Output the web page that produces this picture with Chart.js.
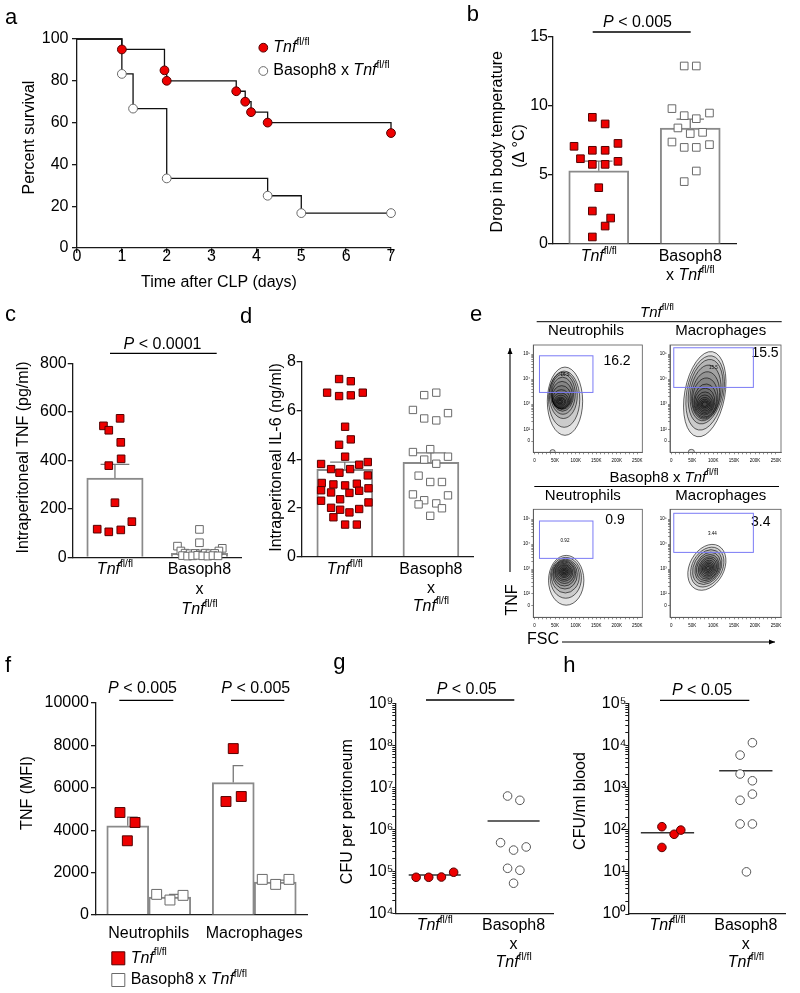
<!DOCTYPE html>
<html>
<head>
<meta charset="utf-8">
<title>CLP figure</title>
<script src="https://cdn.jsdelivr.net/npm/chart.js"></script>
<style>
body { margin: 0; background: #ffffff; }
#page { position: relative; width: 800px; height: 993px; background: #ffffff; }
#page canvas { position: absolute; left: 0; top: 0; }
</style>
</head>
<body>
<div id="page"></div>
<script>
// ----------------------------------------------------------------------
//	data
// ----------------------------------------------------------------------
// a : survival after CLP
const surv_days_tnf  = [0, 1, 1.95, 2, 3.55, 3.75, 3.88, 4.25, 7]
const surv_pct_tnf   = [100, 95, 85, 80, 75, 70, 65, 60, 55]
const surv_days_baso = [0, 1, 1.25, 2, 4.25, 5, 7]
const surv_pct_baso  = [100, 83.3, 66.7, 33.3, 25, 16.7, 16.7]

// b : drop in body temperature
const temp_tnf      = [9.18, 8.7, 7.08, 7.29, 6.79, 6.79, 6.18, 5.77, 5.77, 5.99, 4.08, 2.39, 1.88, 1.3, 0.51]
const temp_jit_tnf  = [-0.07, 0.07, -0.27, 0.21, -0.07, 0.07, -0.2, -0.07, 0.07, 0.21, 0, -0.07, 0.13, 0.07, -0.07]
const temp_baso     = [12.9, 12.9, 9.81, 9.3, 9.08, 9.49, 8.41, 8.0, 8.09, 7.39, 7.0, 7.0, 7.2, 5.29, 4.52]
const temp_jit_baso = [-0.066, 0.066, -0.2, -0.066, 0.066, 0.21, -0.135, 0, 0.135, -0.2, -0.066, 0.066, 0.21, 0.066, -0.066]
const temp_mean     = [5.3, 8.4]
const temp_top      = [6.0, 9.05]

// c : intraperitoneal TNF
const tnf_tnf      = [573, 542, 524, 474, 406, 378, 225, 147, 116, 105, 113]
const tnf_jit_tnf  = [0.061, -0.136, -0.073, 0.069, 0.073, -0.073, 0, 0.2, -0.21, -0.073, 0.069]
const tnf_baso     = [115, 60, 46, 37, 26, 26, 17, 15, 16, 14, 17, 15, 16, 7, 5, 6, 8, 6, 5, 7, 6]
const tnf_jit_baso = [0, 0, -0.26, 0.27, -0.22, 0.23, -0.17, -0.11, -0.05, 0.01, 0.07, 0.125, 0.18, -0.2, -0.14, -0.08, -0.02, 0.04, 0.1, 0.16, 0.22]
const tnf_mean     = [327, 16]
const tnf_top      = [383, 22]

// d : intraperitoneal IL-6
const il6_tnf = [7.30, 7.21, 6.74, 6.60, 6.63, 6.74, 5.34, 4.82, 4.60, 4.11, 3.81, 3.60, 3.45, 3.60, 3.78, 3.89,
	3.03, 2.97, 2.93, 3.00, 3.34, 2.73, 2.64, 2.62, 2.71, 2.81, 2.30, 2.36, 2.01, 1.93, 1.82, 1.96, 2.23, 1.62, 1.32, 1.32]
const il6_jit_tnf = [-0.066, 0.07, -0.205, -0.066, 0.07, 0.209, 0.004, 0.07, -0.066, 0.004, -0.275, -0.159, -0.062, 0.062, 0.167, 0.267,
	-0.267, -0.132, 0.004, 0.14, 0.267, -0.275, -0.159, 0.054, 0.167, 0.275, -0.275, -0.054, -0.159, -0.054, 0.054, 0.167, 0.275, -0.132, 0.004, 0.14]
const il6_baso = [6.64, 6.74, 6.03, 5.68, 5.60, 5.90, 4.30, 4.42, 3.99, 3.82, 4.11, 3.33, 3.07, 3.07, 2.56, 2.32, 2.19, 2.52, 2.15, 1.99, 1.68]
const il6_jit_baso = [-0.078, 0.062, -0.209, -0.078, 0.062, 0.198, -0.209, -0.008, -0.078, 0.062, 0.198, -0.143, -0.008, 0.128,
	-0.209, -0.078, 0.062, 0.198, -0.143, 0.128, -0.008]
const il6_mean = [3.59, 3.88]
const il6_top  = [3.89, 4.27]

// e : flow cytometry (FSC in K, TNF in decades), gates [x0, x1, y0, y1]
const flow_x_ticks  = [0, 50, 100, 150, 200, 250]
const flow_x_labels = ['0', '50K', '100K', '150K', '200K', '250K']
const flow_y_ticks  = [1.53, 2, 3, 4, 5]
const flow_y_labels = ['0', '10²', '10³', '10⁴', '10⁵']
const gate_neu_tnf  = [12, 142, 3.47, 4.93]
const gate_mac_tnf  = [6, 196, 3.67, 5.25]
const gate_neu_baso = [12, 142, 3.43, 4.93]
const gate_mac_baso = [6, 196, 3.67, 5.24]
// contour levels [centre x, centre y, radius x, radius y, tilt]
const cont_neu_tnf = [[74, 3.12, 43, 1.36, 0], [72, 3.2, 38, 1.12, 0], [70, 3.35, 34, 0.92, 0], [69, 3.4, 30, 0.8, 0],
	[68, 3.4, 27, 0.68, 0], [67, 3.35, 25, 0.56, 0], [66, 3.28, 23, 0.46, 0], [65, 3.2, 21, 0.38, 0], [64, 3.15, 19, 0.3, 0],
	[64, 3.12, 16, 0.24, 0], [63, 3.1, 13, 0.18, 0], [63, 3.1, 10, 0.13, 0], [62, 3.1, 7, 0.09, 0], [62, 3.1, 4, 0.05, 0],
	[44, 1.12, 6, 0.07, 0]]
const cont_mac_tnf = [[80, 3.4, 48, 1.72, 0.18], [81, 3.45, 44, 1.5, 0.18], [82, 3.5, 40, 1.3, 0.18], [82, 3.45, 36, 1.12, 0.15],
	[82, 3.35, 33, 0.95, 0.12], [81, 3.25, 30, 0.8, 0.1], [81, 3.15, 27, 0.66, 0.1], [80, 3.1, 24, 0.54, 0.08],
	[80, 3.05, 21, 0.44, 0.05], [80, 3.02, 18, 0.35, 0], [80, 3.0, 15, 0.27, 0], [80, 3.0, 12, 0.2, 0],
	[80, 3.0, 9, 0.14, 0], [80, 3.0, 6, 0.09, 0], [48, 1.12, 7, 0.08, 0]]
const cont_neu_baso = [[77, 2.55, 43, 1.0, 0], [76, 2.65, 38, 0.82, 0], [75, 2.72, 34, 0.68, 0], [74, 2.78, 30, 0.58, 0],
	[73, 2.82, 27, 0.5, 0], [73, 2.85, 24, 0.43, 0], [72, 2.87, 21, 0.36, 0], [72, 2.88, 18, 0.3, 0], [72, 2.9, 15, 0.24, 0],
	[72, 2.9, 12, 0.19, 0], [72, 2.9, 9, 0.14, 0], [72, 2.9, 6, 0.09, 0], [72, 2.9, 3, 0.05, 0]]
const cont_mac_baso = [[85, 3.07, 41, 0.98, 0.5], [86, 3.08, 36, 0.85, 0.5], [86, 3.08, 32, 0.74, 0.5], [87, 3.07, 28, 0.64, 0.5],
	[87, 3.06, 25, 0.55, 0.5], [88, 3.05, 22, 0.47, 0.5], [88, 3.05, 19, 0.4, 0.5], [88, 3.04, 16, 0.33, 0.5],
	[88, 3.04, 13, 0.26, 0.5], [88, 3.04, 10, 0.2, 0.5], [88, 3.04, 7, 0.14, 0.5], [88, 3.04, 4, 0.08, 0.5]]

// f : TNF (MFI)
const cell_types     = ['Neutrophils', 'Macrophages']
const mfi_tnf        = [4835, 4364, 3501, 7849, 5353, 5589]
const mfi_cell_tnf   = [0, 0, 0, 1, 1, 1]
const mfi_jit_tnf    = [-0.273, -0.13, -0.203, -0.199, -0.268, -0.123]
const mfi_baso       = [973, 706, 926, 1680, 1444, 1680]
const mfi_cell_baso  = [0, 0, 0, 1, 1, 1]
const mfi_jit_baso   = [0.075, 0.201, 0.325, 0.076, 0.203, 0.329]
const mfi_mean_tnf   = [4207, 6248]
const mfi_top_tnf    = [4615, 7049]
const mfi_mean_baso  = [848, 1554]
const mfi_top_baso   = [973, 1648]

// g : CFU per peritoneum
const cfu_per_tnf      = [7.2e4, 7.2e4, 7.3e4, 9.5e4]
const cfu_per_jit_tnf  = [-0.236, -0.076, 0.085, 0.24]
const cfu_per_baso     = [6.2e6, 4.9e6, 4.8e5, 3.2e5, 3.8e5, 1.18e5, 1.06e5, 5.2e4]
const cfu_per_jit_baso = [-0.076, 0.08, -0.165, 0, 0.16, -0.076, 0.08, 0]
const cfu_per_line     = [8.2e4, 1.58e6]

// h : CFU/ml blood
const cfu_bl_tnf      = [118, 78, 98, 38]
const cfu_bl_jit_tnf  = [-0.071, 0.085, 0.17, -0.071]
const cfu_bl_baso     = [1.16e4, 5.9e3, 2.1e3, 1.45e3, 700, 500, 137, 137, 10]
const cfu_bl_jit_baso = [0.084, -0.073, -0.073, 0.084, 0.084, -0.073, -0.073, 0.084, 0.008]
const cfu_bl_line     = [85, 2.5e3]

// ----------------------------------------------------------------------
//	labels and styles
// ----------------------------------------------------------------------
const FONT = "'Liberation Sans', Arial, sans-serif"
const RED = '#ee0000'
const RED_EDGE = '#550000'
const OPEN_EDGE = '#6a6a6a'
const BAR_EDGE = '#8a8a8a'
const AXIS = '#1a1a1a'
const SUP = ['⁰', '¹', '²', '³', '⁴', '⁵', '⁶', '⁷', '⁸', '⁹']

const TNF = [['Tnf', 'i'], ['fl/fl', 's']]
const BASO_X_TNF = [['Basoph8 x ', ''], ['Tnf', 'i'], ['fl/fl', 's']]
const GROUPS_2LINE = [[TNF], [[['Basoph8', '']], [['x ', ''], ['Tnf', 'i'], ['fl/fl', 's']]]]
const GROUPS_3LINE = [[TNF], [[['Basoph8', '']], [['x', '']], TNF]]
const P_005 = [['P', 'i'], [' < 0.005', '']]
const P_0001 = [['P', 'i'], [' < 0.0001', '']]
const P_05 = [['P', 'i'], [' < 0.05', '']]
const UP = -Math.PI / 2

// ----------------------------------------------------------------------
function fontOf(style, size)
{
	const italic = style.indexOf('i') >= 0 ? 'italic ' : ''
	const px = style.indexOf('s') >= 0 ? size * 0.64 : size
	return italic + px + 'px ' + FONT
}

function richText(ctx, parts, x, y, size, align, rot)
{
	if (typeof parts === 'string') parts = [[parts, '']]
	ctx.save()
	ctx.translate(x, y)
	if (rot) ctx.rotate(rot)
	ctx.textBaseline = 'middle'
	ctx.textAlign = 'left'
	ctx.fillStyle = '#000'
	let total = 0
	const widths = []
	for (const p of parts)
		{
		ctx.font = fontOf(p[1], size)
		const w = ctx.measureText(p[0]).width
		widths.push(w)
		total += w
		}
	let cx = (align === 'left') ? 0 : -total / 2
	parts.forEach(function (p, i)
		{
		ctx.font = fontOf(p[1], size)
		const dy = p[1].indexOf('s') >= 0 ? -0.36 * size : 0
		ctx.fillText(p[0], cx, dy)
		cx += widths[i]
		})
	ctx.restore()
}

// ----------------------------------------------------------------------
function drawExtra(chart, info)
{
	const ctx = chart.ctx
	const a = chart.chartArea
	ctx.save()

	if (info.contours)
		{
		const xs = chart.scales.x
		const ys = chart.scales.y
		const kx = Math.abs(xs.getPixelForValue(1) - xs.getPixelForValue(0))
		const ky = Math.abs(ys.getPixelForValue(1) - ys.getPixelForValue(0))
		ctx.save()
		ctx.beginPath()
		ctx.rect(a.left, a.top, a.right - a.left, a.bottom - a.top)
		ctx.clip()
		ctx.strokeStyle = '#000'
		ctx.fillStyle = 'rgba(40,40,40,0.13)'
		ctx.lineWidth = 0.6
		for (const c of info.contours)
			{
			ctx.beginPath()
			ctx.ellipse(xs.getPixelForValue(c[0]), ys.getPixelForValue(c[1]), c[2] * kx, c[3] * ky, c[4], 0, 2 * Math.PI)
			ctx.fill()
			ctx.stroke()
			}
		ctx.restore()
		}

	if (info.gate)
		{
		const g = info.gate
		const xs = chart.scales.x
		const ys = chart.scales.y
		const x0 = xs.getPixelForValue(g[0])
		const x1 = xs.getPixelForValue(g[1])
		const y0 = ys.getPixelForValue(g[3])
		const y1 = ys.getPixelForValue(g[2])
		ctx.strokeStyle = '#7a7af5'
		ctx.lineWidth = 1
		ctx.strokeRect(x0, y0, x1 - x0, y1 - y0)
		}

	if (info.frame)
		{
		ctx.strokeStyle = '#555'
		ctx.lineWidth = 0.8
		ctx.strokeRect(a.left, a.top, a.right - a.left, a.bottom - a.top)
		}

	if (info.groups)
		{
		const xs = chart.scales.xj
		info.groups.forEach(function (lines, i)
			{
			lines.forEach(function (parts, k)
				{
				richText(ctx, parts, xs.getPixelForValue(i), info.group_y[k], 16, 'center')
				})
			})
		}

	ctx.strokeStyle = '#000'
	for (const l of (info.lines || []))
		{
		ctx.lineWidth = l[4] || 1.3
		ctx.beginPath()
		ctx.moveTo(l[0], l[1])
		ctx.lineTo(l[2], l[3])
		ctx.stroke()
		}

	for (const r of (info.arrows || []))
		{
		const ang = Math.atan2(r[3] - r[1], r[2] - r[0])
		ctx.lineWidth = 1.1
		ctx.beginPath()
		ctx.moveTo(r[0], r[1])
		ctx.lineTo(r[2], r[3])
		ctx.stroke()
		ctx.fillStyle = '#000'
		ctx.beginPath()
		ctx.moveTo(r[2], r[3])
		ctx.lineTo(r[2] - 6 * Math.cos(ang) + 2.5 * Math.sin(ang), r[3] - 6 * Math.sin(ang) - 2.5 * Math.cos(ang))
		ctx.lineTo(r[2] - 6 * Math.cos(ang) - 2.5 * Math.sin(ang), r[3] - 6 * Math.sin(ang) + 2.5 * Math.cos(ang))
		ctx.closePath()
		ctx.fill()
		}

	for (const m of (info.marks || []))
		{
		ctx.fillStyle = m.fill
		ctx.strokeStyle = m.edge
		ctx.lineWidth = 1
		ctx.beginPath()
		if (m.shape === 'circle')
			ctx.arc(m.x, m.y, m.r, 0, 2 * Math.PI)
		else
			ctx.rect(m.x - m.r, m.y - m.r, 2 * m.r, 2 * m.r)
		ctx.fill()
		ctx.stroke()
		}

	for (const t of (info.texts || []))
		{
		richText(ctx, t.p, t.x, t.y, t.size || 16, t.align || 'center', t.rot || 0)
		}

	ctx.restore()
}

// ----------------------------------------------------------------------
function makeChart(type, labels, datasets, area, yw, xh, scales, info)
{
	const canvas = document.createElement('canvas')
	canvas.width = 800
	canvas.height = 993
	document.getElementById('page').appendChild(canvas)
	scales.y.afterFit = function (s) { s.width = yw }
	scales.x.afterFit = function (s) { s.height = xh }
	const data = labels ? {labels: labels, datasets: datasets} : {datasets: datasets}
	return new Chart(canvas, {
		type: type,
		data: data,
		options: {
			responsive: false, animation: false, devicePixelRatio: 1, events: [],
			layout: {padding: {left: area[0] - yw, top: area[1], right: 800 - area[2], bottom: 993 - area[3] - xh}},
			plugins: {legend: {display: false}, tooltip: {enabled: false}},
			scales: scales
		},
		plugins: [{id: 'extra', afterDraw: function (c) { drawExtra(c, info) }}]
	})
}

function numAxis(min, max, step, pad)
{
	return {
		type: 'linear', min: min, max: max,
		ticks: {stepSize: step, padding: pad, color: '#000', font: {family: FONT, size: 16, lineHeight: 1},
			callback: function (v) { return String(v) }},
		grid: {drawOnChartArea: false, drawTicks: true, tickLength: 5, color: AXIS, lineWidth: 1.3},
		border: {display: true, color: AXIS, width: 1.3}
	}
}

function logAxis(minExp, maxExp)
{
	return {
		type: 'logarithmic', min: Math.pow(10, minExp), max: Math.pow(10, maxExp),
		afterBuildTicks: function (s)
			{
			const ticks = []
			for (let e = minExp; e < maxExp; e++)
				for (let k = 1; k < 10; k++)
					ticks.push({value: k * Math.pow(10, e)})
			ticks.push({value: Math.pow(10, maxExp)})
			s.ticks = ticks
			},
		ticks: {
			autoSkip: false, padding: -1, color: '#000', font: {family: FONT, size: 16, lineHeight: 1},
			callback: function (v)
				{
				const e = Math.round(Math.log10(v))
				return Math.abs(Math.log10(v) - e) < 1e-9 ? '10' + SUP[e] : ''
				}
			},
		grid: {drawOnChartArea: false, drawTicks: true, tickLength: 3, color: AXIS, lineWidth: 1},
		border: {display: true, color: AXIS, width: 1.3}
	}
}

function catAxis()
{
	return {
		type: 'category', offset: true,
		ticks: {padding: 3, color: '#000', font: {family: FONT, size: 16, lineHeight: 1}},
		grid: {display: false},
		border: {display: true, color: AXIS, width: 1.3}
	}
}

function plainX()
{
	return {
		type: 'linear', min: -0.5, max: 1.5, offset: false,
		ticks: {display: false}, grid: {display: false},
		border: {display: true, color: AXIS, width: 1.3}
	}
}

function jitterAxis()
{
	return {type: 'linear', display: false, offset: false, min: -0.5, max: 1.5}
}

function pointsSet(cat, jitter, values, fill, edge, style, r)
{
	return {
		type: 'scatter', xAxisID: 'xj', yAxisID: 'y', order: 0, clip: false, grouped: false,
		data: values.map(function (v, i) { return {x: (Array.isArray(cat) ? cat[i] : cat) + jitter[i], y: v} }),
		pointStyle: style, pointRadius: r,
		pointBackgroundColor: fill, pointBorderColor: edge, pointBorderWidth: 1
	}
}

function pathSet(data, color, width)
{
	return {
		type: 'scatter', showLine: true, xAxisID: 'xj', yAxisID: 'y', order: 1, grouped: false, data: data,
		borderColor: color, borderWidth: width, pointRadius: 0, spanGaps: false, fill: false
	}
}

function errSet(centers, means, tops, capL, capR)
{
	const data = []
	centers.forEach(function (c, i)
		{
		data.push({x: c, y: means[i]}, {x: c, y: tops[i]})
		if (capL) data.push({x: c - capL, y: tops[i]})
		data.push({x: c + capR, y: tops[i]}, {x: c, y: null})
		})
	return pathSet(data, '#777', 1.3)
}

function meanSet(values, half)
{
	const data = []
	values.forEach(function (v, i)
		{
		data.push({x: i - half, y: v}, {x: i + half, y: v}, {x: i, y: null})
		})
	return pathSet(data, '#333', 1.5)
}

// bars sit on the jitter axis at their group centre, one bar per value
function barSet(centers, values, thickness)
{
	return {
		type: 'bar', xAxisID: 'xj', yAxisID: 'y', order: 2, grouped: false, barThickness: thickness,
		data: centers.map(function (c, i) { return {x: c, y: values[i]} }),
		backgroundColor: 'rgba(255,255,255,0)', borderColor: BAR_EDGE, borderWidth: 1.3
	}
}

function kmSet(days, pct, fill, edge)
{
	return {
		data: days.map(function (d, i) { return {x: d, y: pct[i]} }),
		showLine: true, stepped: 'before', clip: false,
		borderColor: '#111', borderWidth: 1.3,
		pointRadius: days.map(function (d, i) { return i ? 4.4 : 0 }),
		pointBackgroundColor: fill, pointBorderColor: edge, pointBorderWidth: 1
	}
}

// ----------------------------------------------------------------------
function panel_a()
{
	const area = [77, 39, 391, 248]
	const info = {
		texts: [
			{p: 'a', x: 5, y: 18.4, size: 22, align: 'left'},
			{p: 'Percent survival', x: 29.5, y: 137.5, rot: UP},
			{p: 'Time after CLP (days)', x: 219, y: 283},
			{p: TNF, x: 273.3, y: 47.7, align: 'left'},
			{p: BASO_X_TNF, x: 273.3, y: 71, align: 'left'}
		],
		marks: [
			{shape: 'circle', x: 263.3, y: 47.7, r: 4.4, fill: RED, edge: RED_EDGE},
			{shape: 'circle', x: 263.3, y: 71, r: 4.4, fill: '#fff', edge: OPEN_EDGE}
		]
	}
	const datasets = [
		kmSet(surv_days_tnf, surv_pct_tnf, RED, RED_EDGE),
		kmSet(surv_days_baso, surv_pct_baso, '#fff', OPEN_EDGE)
	]
	makeChart('scatter', null, datasets, area, 50, 30,
		{x: numAxis(0, 7, 1, -4), y: numAxis(0, 100, 20, 3.5)}, info)
}

// ----------------------------------------------------------------------
function panel_b()
{
	const area = [553, 37, 736, 244]
	const info = {
		groups: GROUPS_2LINE, group_y: [256.5, 275.5],
		lines: [[592.7, 32, 690.7, 32]],
		texts: [
			{p: 'b', x: 466.7, y: 15.1, size: 22, align: 'left'},
			{p: P_005, x: 637.5, y: 22.5},
			{p: 'Drop in body temperature', x: 497.7, y: 141.7, rot: UP},
			{p: '(Δ °C)', x: 520, y: 146, rot: UP}
		]
	}
	const datasets = [
		pointsSet(0, temp_jit_tnf, temp_tnf, RED, RED_EDGE, 'rect', 5.4),
		pointsSet(1, temp_jit_baso, temp_baso, '#fff', OPEN_EDGE, 'rect', 5.4),
		errSet([0, 1], temp_mean, temp_top, 0.15, 0.15),
		barSet([0, 1], temp_mean, 60)
	]
	makeChart('bar', null, datasets, area, 45, 40,
		{x: plainX(), xj: jitterAxis(), y: numAxis(0, 15, 5, 0)}, info)
}

// ----------------------------------------------------------------------
function panel_c()
{
	const area = [72.7, 363.3, 241.7, 557.3]
	const info = {
		groups: GROUPS_3LINE, group_y: [570, 590, 610],
		lines: [[110, 353.3, 216.7, 353.3]],
		texts: [
			{p: 'c', x: 5, y: 315.1, size: 22, align: 'left'},
			{p: P_0001, x: 162.5, y: 344.2},
			{p: 'Intraperitoneal TNF (pg/ml)', x: 23.5, y: 457.5, rot: UP}
		]
	}
	const datasets = [
		pointsSet(0, tnf_jit_tnf, tnf_tnf, RED, RED_EDGE, 'rect', 5.4),
		pointsSet(1, tnf_jit_baso, tnf_baso, '#fff', OPEN_EDGE, 'rect', 5.4),
		errSet([0, 1], tnf_mean, tnf_top, 0.17, 0.17),
		barSet([0, 1], tnf_mean, 56.4)
	]
	makeChart('bar', null, datasets, area, 45, 60,
		{x: plainX(), xj: jitterAxis(), y: numAxis(0, 800, 200, 1)}, info)
}

// ----------------------------------------------------------------------
function panel_d()
{
	const area = [301.7, 362, 474, 556.7]
	const info = {
		groups: GROUPS_3LINE, group_y: [570, 588.5, 607],
		texts: [
			{p: 'd', x: 240, y: 317.4, size: 22, align: 'left'},
			{p: 'Intraperitoneal IL-6 (ng/ml)', x: 276.5, y: 457.5, rot: UP}
		]
	}
	const datasets = [
		pointsSet(0, il6_jit_tnf, il6_tnf, RED, RED_EDGE, 'rect', 5.2),
		pointsSet(1, il6_jit_baso, il6_baso, '#fff', OPEN_EDGE, 'rect', 5.2),
		errSet([0, 1], il6_mean, il6_top, 0.17, 0.17),
		barSet([0, 1], il6_mean, 56)
	]
	makeChart('bar', null, datasets, area, 20, 60,
		{x: plainX(), xj: jitterAxis(), y: numAxis(0, 8, 2, 0.7)}, info)
}

// ----------------------------------------------------------------------
function flowAxes(yMin, yMax)
{
	const small = {family: FONT, size: 4.5, lineHeight: 1}
	return {
		x: {
			type: 'linear', min: -3, max: 262,
			afterBuildTicks: function (s)
				{
				const ticks = []
				for (let v = 0; v <= 250; v += 10) ticks.push({value: v})
				s.ticks = ticks
				},
			ticks: {autoSkip: false, maxRotation: 0, padding: 4.5, color: '#000', font: small,
				callback: function (v) { const i = flow_x_ticks.indexOf(v); return i < 0 ? '' : flow_x_labels[i] }},
			grid: {drawOnChartArea: false, drawTicks: true, tickLength: 2, color: '#444', lineWidth: 0.6},
			border: {display: true, color: '#555', width: 0.8}
		},
		y: {
			type: 'linear', min: yMin, max: yMax,
			afterBuildTicks: function (s)
				{
				const ticks = flow_y_ticks.map(function (v) { return {value: v} })
				for (let n = 2; n < 5; n++)
					for (let k = 2; k < 10; k++)
						ticks.push({value: n + Math.log10(k)})
				s.ticks = ticks
				},
			ticks: {autoSkip: false, padding: 1.3, color: '#000', font: small,
				callback: function (v)
					{
					for (let i = 0; i < flow_y_ticks.length; i++)
						if (Math.abs(flow_y_ticks[i] - v) < 1e-6) return flow_y_labels[i]
					return ''
					}},
			grid: {drawOnChartArea: false, drawTicks: true, tickLength: 2, color: '#444', lineWidth: 0.6},
			border: {display: true, color: '#555', width: 0.8}
		}
	}
}

function flowChart(area, yMin, yMax, gate, contours, texts, lines, arrows)
{
	const info = {frame: true, gate: gate, contours: contours, texts: texts || [], lines: lines || [], arrows: arrows || []}
	makeChart('scatter', null, [{data: []}], area, 16, 14, flowAxes(yMin, yMax), info)
}

function panel_e()
{
	const texts = [
		{p: 'e', x: 470, y: 315.1, size: 22, align: 'left'},
		{p: TNF, x: 657, y: 312.5, size: 15},
		{p: 'Neutrophils', x: 586, y: 330.7, size: 15},
		{p: 'Macrophages', x: 720.7, y: 330.7, size: 15},
		{p: BASO_X_TNF, x: 664, y: 477.5, size: 15},
		{p: 'Neutrophils', x: 582.8, y: 496, size: 15},
		{p: 'Macrophages', x: 720.8, y: 496, size: 15},
		{p: '16.2', x: 617, y: 360.7, size: 14},
		{p: '15.5', x: 765, y: 353.3, size: 14},
		{p: '0.9', x: 615, y: 520, size: 14},
		{p: '3.4', x: 760.8, y: 522.5, size: 14},
		{p: '16.2', x: 565, y: 374.3, size: 4.5},
		{p: '15.5', x: 713.3, y: 367.7, size: 4.5},
		{p: '0.92', x: 565, y: 541, size: 4.5},
		{p: '3.44', x: 712.3, y: 533.3, size: 4.5},
		{p: 'TNF', x: 512.8, y: 600, size: 16, rot: UP},
		{p: 'FSC', x: 543, y: 640, size: 16}
	]
	const lines = [[536.7, 321.7, 781.7, 321.7, 1], [534.3, 486.5, 779, 486.5, 1]]
	const arrows = [[510, 572, 510, 348], [562, 642, 775, 642]]
	flowChart([533.3, 345, 642.3, 452.3], 1.084, 5.36, gate_neu_tnf, cont_neu_tnf, texts, lines, arrows)
	flowChart([670, 345, 781, 452.3], 1.084, 5.36, gate_mac_tnf, cont_mac_tnf)
	flowChart([533.3, 509.3, 642.3, 617.3], 1.064, 5.40, gate_neu_baso, cont_neu_baso)
	flowChart([670, 509.3, 781, 617.3], 1.064, 5.40, gate_mac_baso, cont_mac_baso)
}

// ----------------------------------------------------------------------
function panel_f()
{
	const area = [96, 703, 307, 915]
	const info = {
		lines: [[119.3, 700.3, 173.3, 700.3], [231, 700.3, 284.3, 700.3]],
		texts: [
			{p: 'f', x: 5, y: 665.7, size: 22, align: 'left'},
			{p: P_005, x: 142.5, y: 688.7},
			{p: P_005, x: 255.8, y: 688.7},
			{p: 'TNF (MFI)', x: 27.7, y: 793, rot: UP},
			{p: TNF, x: 130.7, y: 958.3, align: 'left'},
			{p: BASO_X_TNF, x: 130.7, y: 980, align: 'left'}
		],
		marks: [
			{shape: 'rect', x: 118.3, y: 958.3, r: 6.5, fill: RED, edge: RED_EDGE},
			{shape: 'rect', x: 118.3, y: 980, r: 6.5, fill: '#fff', edge: OPEN_EDGE}
		]
	}
	const datasets = [
		pointsSet(mfi_cell_tnf, mfi_jit_tnf, mfi_tnf, RED, RED_EDGE, 'rect', 7),
		pointsSet(mfi_cell_baso, mfi_jit_baso, mfi_baso, '#fff', OPEN_EDGE, 'rect', 7),
		errSet([-0.199, 0.801], mfi_mean_tnf, mfi_top_tnf, 0, 0.095),
		errSet([0.199, 1.199], mfi_mean_baso, mfi_top_baso, 0, 0.095),
		barSet([-0.199, 0.801], mfi_mean_tnf, 42),
		barSet([0.199, 1.199], mfi_mean_baso, 42)
	]
	makeChart('bar', cell_types, datasets, area, 60, 30,
		{x: catAxis(), xj: jitterAxis(), y: numAxis(0, 10000, 2000, 2)}, info)
}

// ----------------------------------------------------------------------
function panel_g()
{
	const area = [395.3, 703.3, 553, 913.3]
	const info = {
		groups: GROUPS_3LINE, group_y: [926, 944.5, 963],
		lines: [[426, 700, 514.3, 700]],
		texts: [
			{p: 'g', x: 333.3, y: 663.1, size: 22, align: 'left'},
			{p: P_05, x: 466.7, y: 690},
			{p: 'CFU per peritoneum', x: 347.7, y: 811.7, rot: UP}
		]
	}
	const datasets = [
		pointsSet(0, cfu_per_jit_tnf, cfu_per_tnf, RED, RED_EDGE, 'circle', 4.3),
		pointsSet(1, cfu_per_jit_baso, cfu_per_baso, '#fff', '#555', 'circle', 4.3),
		meanSet(cfu_per_line, 0.33)
	]
	makeChart('scatter', null, datasets, area, 40, 20,
		{x: plainX(), xj: jitterAxis(), y: logAxis(4, 9)}, info)
}

// ----------------------------------------------------------------------
function panel_h()
{
	const area = [628.3, 703.3, 785, 914]
	const info = {
		groups: GROUPS_3LINE, group_y: [926, 945, 963],
		lines: [[660, 700.3, 749.3, 700.3]],
		texts: [
			{p: 'h', x: 563.3, y: 665.7, size: 22, align: 'left'},
			{p: P_05, x: 702, y: 690.5},
			{p: 'CFU/ml blood', x: 581, y: 801, rot: UP}
		]
	}
	const datasets = [
		pointsSet(0, cfu_bl_jit_tnf, cfu_bl_tnf, RED, RED_EDGE, 'circle', 4.3),
		pointsSet(1, cfu_bl_jit_baso, cfu_bl_baso, '#fff', '#555', 'circle', 4.3),
		meanSet(cfu_bl_line, 0.34)
	]
	makeChart('scatter', null, datasets, area, 40, 20,
		{x: plainX(), xj: jitterAxis(), y: logAxis(0, 5)}, info)
}

// ----------------------------------------------------------------------
panel_a()
panel_b()
panel_c()
panel_d()
panel_e()
panel_f()
panel_g()
panel_h()
</script>
</body>
</html>
